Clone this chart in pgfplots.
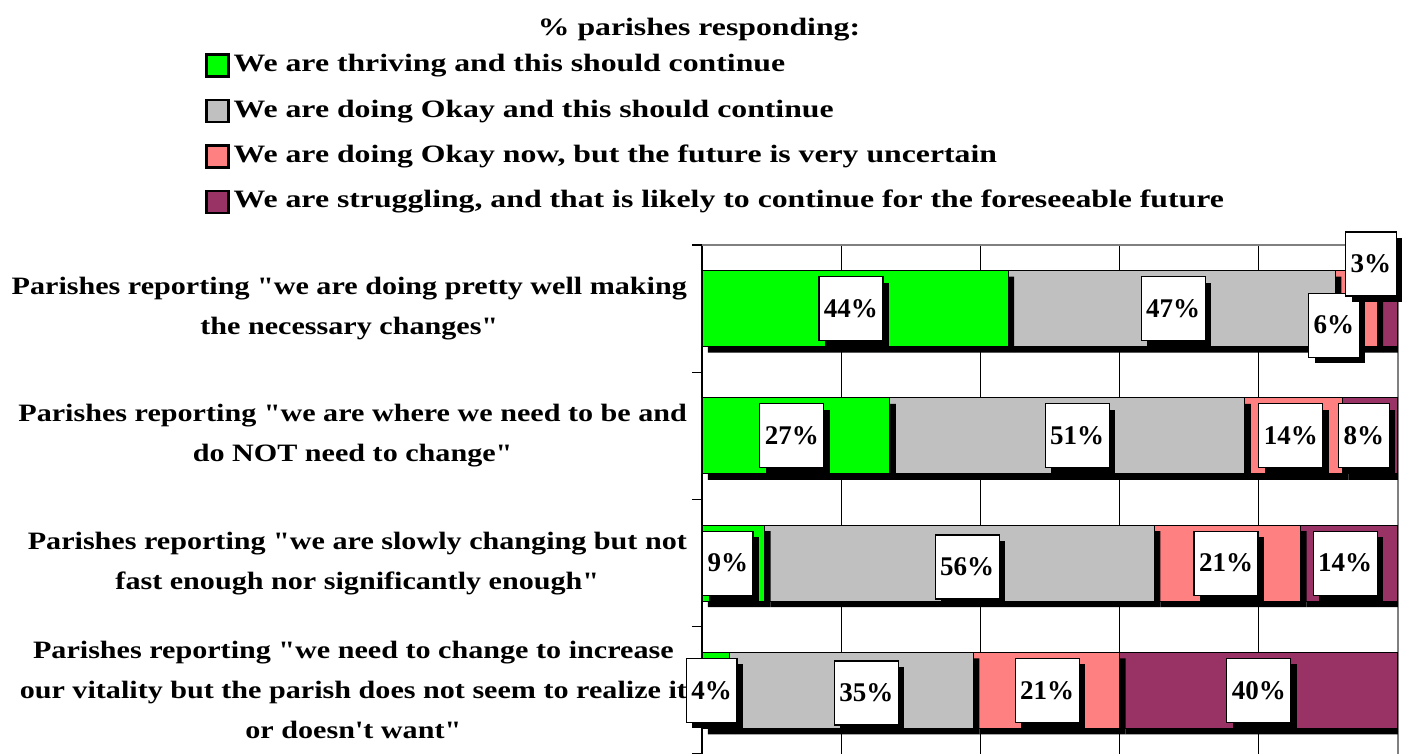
\documentclass[border=0pt]{standalone}
\usepackage{fontspec}
\newfontfamily\palA{Liberation Serif}[FakeStretch=1.205]
\newfontfamily\palB{Liberation Serif}[FakeStretch=1.27]
\newfontfamily\plain{Liberation Serif}
\usepackage{pgfplots}
\pgfplotsset{compat=1.18}
\usetikzlibrary{shadows}

\definecolor{cgreen}{HTML}{00FF00}
\definecolor{cgray}{HTML}{C0C0C0}
\definecolor{cpink}{HTML}{FF8080}
\definecolor{cplum}{HTML}{993366}
\definecolor{frame}{HTML}{808080}

\newcommand\cfs{\palA\bfseries\fontsize{12.5}{20}\selectfont}
\newcommand\bfs{\palB\bfseries\fontsize{12.5}{20}\selectfont}
\newcommand\nfs{\plain\bfseries\fontsize{13.5}{16}\selectfont}

\pgfplotsset{
  base/.style={
    at={(0,0)}, anchor=south west, scale only axis,
    width=348pt, height=254.5pt,
    xmin=0, xmax=100, ymin=-0.5, ymax=3.5, y dir=reverse,
  },
  bshadow/.style={drop shadow={shadow xshift=3pt, shadow yshift=-3pt,
      opacity=1, fill=black, draw=none}},
  legsq/.style={legend image code/.code={
      \draw[##1] (0pt,-5.5pt) rectangle (11pt,5.5pt);},
    draw=black, line width=1.2pt},
}
\tikzset{
  lbl/.style={fill=white, draw=black, line width=0.6pt, font=\nfs,
    inner xsep=2.5pt, inner ysep=0pt, minimum height=32pt,
    drop shadow={shadow xshift=3pt, shadow yshift=-3pt, opacity=1,
      fill=black, draw=none}},
}

\begin{document}
\begin{tikzpicture}
\begin{axis}[base,
  xbar stacked, bar width=38pt,
  axis line style={draw=none},
  xtick={0,20,40,60,80}, xticklabels={}, xmajorgrids,
  grid style={black, line width=0.6pt},
  extra x ticks={100}, extra x tick labels={},
  extra x tick style={grid style={frame, line width=0.6pt}},
  xtick style={draw=none},
  ytick pos=left,
  ytick={0,1,2,3},
  yticklabels={
    {Parishes reporting "we are doing pretty well making\\the necessary changes"},
    {Parishes reporting "we are where we need to be and\\do NOT need to change"},
    {Parishes reporting "we are slowly changing but not\\fast enough nor significantly enough"},
    {Parishes reporting "we need to change to increase\\our vitality but the parish does not seem to realize it\\or doesn't want"}},
  yticklabel style={align=center, font=\cfs, xshift=-4pt},
  ytick style={draw=none},
  extra y ticks={-0.5,0.5,1.5,2.5,3.5}, extra y tick labels={},
  extra y tick style={ytick style={draw=black, line width=0.6pt},
    major tick length=5pt, tick align=outside},
  title={\% parishes responding:},
  title style={font=\bfs, at={(axis description cs:-0.0043,1.400)}, anchor=center},
  legend style={at={(axis description cs:-0.723,1.385)}, anchor=north west,
    draw=none, fill=none, font=\bfs, row sep=10.5pt,
    nodes={text height=9pt, text depth=3pt, inner ysep=0pt},
    /tikz/every even column/.append style={column sep=0pt}},
  legend cell align=left,
]
\draw[frame, line width=0.6pt] (axis cs:0,-0.5) -- (axis cs:100,-0.5);
\draw[black, line width=0.6pt] (axis cs:0,-0.5) -- (axis cs:0,3.5);

\addlegendimage{legsq, fill=cgreen}
\addlegendentry{We are thriving and this should continue}
\addlegendimage{legsq, fill=cgray}
\addlegendentry{We are doing Okay and this should continue}
\addlegendimage{legsq, fill=cpink}
\addlegendentry{We are doing Okay now, but the future is very uncertain}
\addlegendimage{legsq, fill=cplum}
\addlegendentry{We are struggling, and that is likely to continue for the foreseeable future}

% thriving
\addplot[fill=cgreen, draw=black, line width=0.5pt, bshadow, forget plot]
  coordinates {(44,0) (27,1) (9,2) (4,3)};
% okay, continue
\addplot[fill=cgray, draw=black, line width=0.5pt, bshadow, forget plot]
  coordinates {(47,0) (51,1) (56,2) (35,3)};
% okay now, uncertain
\addplot[fill=cpink, draw=black, line width=0.5pt, bshadow, forget plot]
  coordinates {(6,0) (14,1) (21,2) (21,3)};
% struggling
\addplot[fill=cplum, draw=black, line width=0.5pt, bshadow, forget plot]
  coordinates {(3,0) (8,1) (14,2) (40,3)};
\end{axis}

% value boxes, on top of the bars
\begin{axis}[base, hide axis, clip=false]
\addplot[draw=none, point meta=explicit symbolic,
  nodes near coords={\pgfplotspointmeta\%}, nodes near coords align=center,
  every node near coord/.style={lbl, anchor=center}]
  table[x=x, y=y, meta=v] {
  x     y      v
  21.4  0      44
  67.7  0      47
  90.8  0.13   6
  96.1  -0.35  3
  12.9  1      27
  53.9  1      51
  84.6  1      14
  95.1  1      8
  3.7   2      9
  38.1  2.03   56
  75.3  2      21
  92.4  2      14
  1.4   3      4
  23.6  3.02   35
  49.6  3      21
  80.0  3      40
  };
\end{axis}
\pgfresetboundingbox
\path[use as bounding box] (-351pt,0pt) rectangle (353pt,377pt);
\end{tikzpicture}
\end{document}
